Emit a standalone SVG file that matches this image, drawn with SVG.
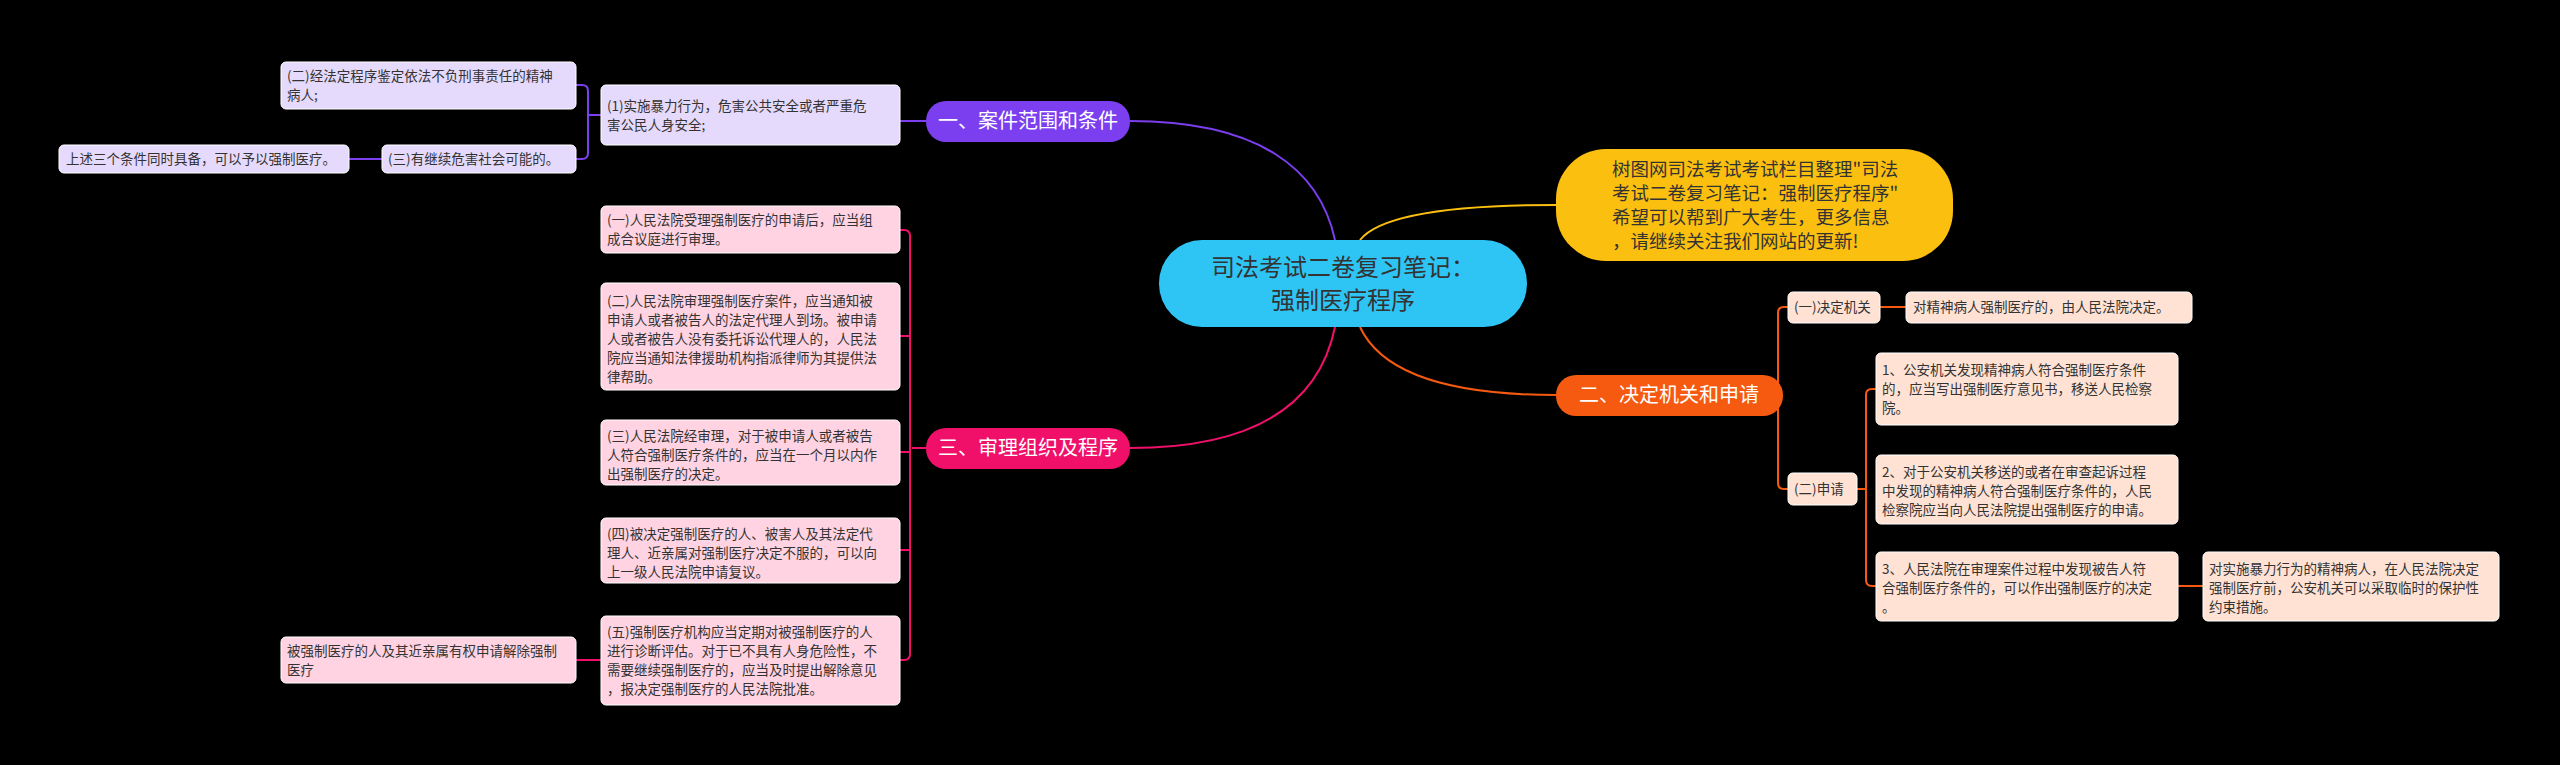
<svg xmlns="http://www.w3.org/2000/svg" width="2560" height="765" viewBox="0 0 2560 765">
<style>
text{font-family:"Noto Sans CJK SC","Noto Sans",sans-serif;}
.t{font-size:13.5px;fill:#333;}
.pu{fill:#e6dafc;stroke:#fff;stroke-width:1}
.pk{fill:#ffd3e2;stroke:#fff;stroke-width:1}
.or{fill:#ffe2d4;stroke:#fff;stroke-width:1}
.b{font-size:20px;fill:#fff;}
.c{fill:none;stroke-width:2}
</style>
<rect width="2560" height="765" fill="#000"/>
<g id="connectors">
<path class="c" stroke="#7b3ff0" d="M1335,240 C1320,170 1260,121 1130,121"/>
<path class="c" stroke="#fbbf10" d="M1360,240 C1380,215 1450,205 1556,205"/>
<path class="c" stroke="#f55a10" d="M1360,327 C1380,370 1440,395 1556,395"/>
<path class="c" stroke="#f0106a" d="M1335,327 C1320,400 1260,448 1130,448"/>
<g stroke="#7b3ff0" class="c"><path d="M926,121 H900"/><path d="M601,115 H588 M576,85 H582 Q588,85 588,91 V153 Q588,159 582,159 H576"/><path d="M382,159 H349"/></g>
<g stroke="#f0106a" class="c"><path d="M926,448 H912"/><path d="M900,230 H904 Q910,230 910,236 V654 Q910,660 904,660 H900 M900,336 H910 M900,452 H910 M900,550 H910"/><path d="M601,660 H576"/></g>
<g stroke="#f55a10" class="c"><path d="M1783,395 H1776"/><path d="M1788,307 H1784 Q1778,307 1778,313 V483 Q1778,489 1784,489 H1788"/><path d="M1880,307 H1906"/><path d="M1857,489 H1866"/><path d="M1876,389 H1872 Q1866,389 1866,395 V580 Q1866,586 1872,586 H1876"/><path d="M2178,586 H2203"/></g>
</g>
<g id="center"><rect x="1159" y="240" width="368" height="87" rx="43" fill="#2ec5f5"/><text x="1343" y="276" font-size="24" fill="#333" text-anchor="middle">司法考试二卷复习笔记：</text><text x="1343" y="309" font-size="24" fill="#333" text-anchor="middle">强制医疗程序</text></g>
<g id="intro"><rect x="1556" y="149" width="397" height="112" rx="50" fill="#fbbf10"/><g font-size="18.5" fill="#333"><text x="1612" y="176">树图网司法考试考试栏目整理"司法</text><text x="1612" y="200">考试二卷复习笔记：强制医疗程序"</text><text x="1612" y="224">希望可以帮到广大考生，更多信息</text><text x="1612" y="248">，请继续关注我们网站的更新!</text></g></g>
<g id="b1"><rect x="926" y="101" width="204" height="41" rx="20" fill="#7b3ff0"/><text class="b" x="1028" y="128" text-anchor="middle">一、案件范围和条件</text></g>
<g id="b3"><rect x="926" y="428" width="204" height="41" rx="20" fill="#f0106a"/><text class="b" x="1028" y="455" text-anchor="middle">三、审理组织及程序</text></g>
<g id="b2"><rect x="1556" y="375" width="227" height="41" rx="20" fill="#f55a10"/><text class="b" x="1669" y="402" text-anchor="middle">二、决定机关和申请</text></g>
<g id="p1"><rect class="pu" x="601" y="85" width="299" height="60" rx="5"/><text class="t" x="607" y="111">(1)实施暴力行为，危害公共安全或者严重危</text><text class="t" x="607" y="130">害公民人身安全;</text></g>
<g id="p2"><rect class="pu" x="281" y="62" width="295" height="47" rx="5"/><text class="t" x="287" y="81">(二)经法定程序鉴定依法不负刑事责任的精神</text><text class="t" x="287" y="100">病人;</text></g>
<g id="p3"><rect class="pu" x="382" y="145" width="194" height="28" rx="5"/><text class="t" x="388" y="164">(三)有继续危害社会可能的。</text></g>
<g id="p4"><rect class="pu" x="59" y="145" width="290" height="28" rx="5"/><text class="t" x="66" y="164">上述三个条件同时具备，可以予以强制医疗。</text></g>
<g id="k1"><rect class="pk" x="601" y="206" width="299" height="47" rx="5"/><text class="t" x="607" y="225">(一)人民法院受理强制医疗的申请后，应当组</text><text class="t" x="607" y="244">成合议庭进行审理。</text></g>
<g id="k2"><rect class="pk" x="601" y="283" width="299" height="107" rx="5"/><text class="t" x="607" y="306">(二)人民法院审理强制医疗案件，应当通知被</text><text class="t" x="607" y="325">申请人或者被告人的法定代理人到场。被申请</text><text class="t" x="607" y="344">人或者被告人没有委托诉讼代理人的，人民法</text><text class="t" x="607" y="363">院应当通知法律援助机构指派律师为其提供法</text><text class="t" x="607" y="382">律帮助。</text></g>
<g id="k3"><rect class="pk" x="601" y="420" width="299" height="65" rx="5"/><text class="t" x="607" y="441">(三)人民法院经审理，对于被申请人或者被告</text><text class="t" x="607" y="460">人符合强制医疗条件的，应当在一个月以内作</text><text class="t" x="607" y="479">出强制医疗的决定。</text></g>
<g id="k4"><rect class="pk" x="601" y="518" width="299" height="65" rx="5"/><text class="t" x="607" y="539">(四)被决定强制医疗的人、被害人及其法定代</text><text class="t" x="607" y="558">理人、近亲属对强制医疗决定不服的，可以向</text><text class="t" x="607" y="577">上一级人民法院申请复议。</text></g>
<g id="k5"><rect class="pk" x="601" y="616" width="299" height="89" rx="5"/><text class="t" x="607" y="637">(五)强制医疗机构应当定期对被强制医疗的人</text><text class="t" x="607" y="656">进行诊断评估。对于已不具有人身危险性，不</text><text class="t" x="607" y="675">需要继续强制医疗的，应当及时提出解除意见</text><text class="t" x="607" y="694">，报决定强制医疗的人民法院批准。</text></g>
<g id="k6"><rect class="pk" x="281" y="637" width="295" height="46" rx="5"/><text class="t" x="287" y="656">被强制医疗的人及其近亲属有权申请解除强制</text><text class="t" x="287" y="675">医疗</text></g>
<g id="o1"><rect class="or" x="1788" y="292" width="92" height="31" rx="5"/><text class="t" x="1794" y="312">(一)决定机关</text></g>
<g id="o2"><rect class="or" x="1906" y="292" width="286" height="31" rx="5"/><text class="t" x="1913" y="312">对精神病人强制医疗的，由人民法院决定。</text></g>
<g id="o3"><rect class="or" x="1788" y="473" width="69" height="32" rx="5"/><text class="t" x="1794" y="494">(二)申请</text></g>
<g id="o4"><rect class="or" x="1876" y="353" width="302" height="72" rx="5"/><text class="t" x="1882" y="375">1、公安机关发现精神病人符合强制医疗条件</text><text class="t" x="1882" y="394">的，应当写出强制医疗意见书，移送人民检察</text><text class="t" x="1882" y="413">院。</text></g>
<g id="o5"><rect class="or" x="1876" y="455" width="302" height="69" rx="5"/><text class="t" x="1882" y="477">2、对于公安机关移送的或者在审查起诉过程</text><text class="t" x="1882" y="496">中发现的精神病人符合强制医疗条件的，人民</text><text class="t" x="1882" y="515">检察院应当向人民法院提出强制医疗的申请。</text></g>
<g id="o6"><rect class="or" x="1876" y="552" width="302" height="69" rx="5"/><text class="t" x="1882" y="574">3、人民法院在审理案件过程中发现被告人符</text><text class="t" x="1882" y="593">合强制医疗条件的，可以作出强制医疗的决定</text><text class="t" x="1882" y="612">。</text></g>
<g id="o7"><rect class="or" x="2203" y="552" width="296" height="69" rx="5"/><text class="t" x="2209" y="574">对实施暴力行为的精神病人，在人民法院决定</text><text class="t" x="2209" y="593">强制医疗前，公安机关可以采取临时的保护性</text><text class="t" x="2209" y="612">约束措施。</text></g>
</svg>
